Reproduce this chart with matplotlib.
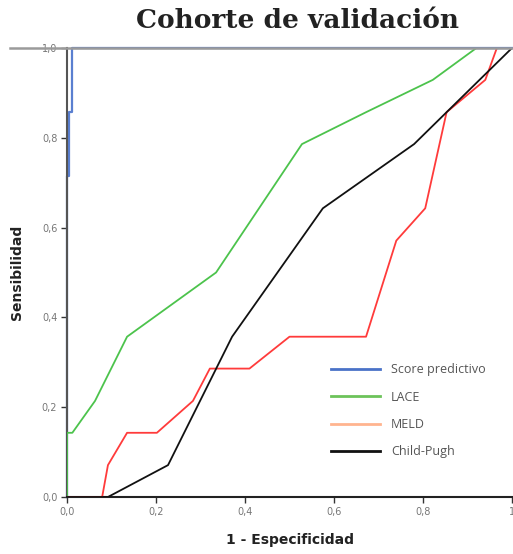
import matplotlib
matplotlib.use("Agg")
import matplotlib.pyplot as plt
from matplotlib.lines import Line2D

# Data (1 - specificity, sensitivity)
score_x = [0, 0, 0.004, 0.004, 0.011, 0.011, 1.0]
score_y = [0, 0.714, 0.714, 0.857, 0.857, 1.0, 1.0]

lace_x = [0, 0, 0.012, 0.063, 0.135, 0.335, 0.528, 0.672, 0.822, 0.92, 1.0]
lace_y = [0, 0.143, 0.143, 0.214, 0.357, 0.5, 0.786, 0.857, 0.929, 1.0, 1.0]

meld_x = [0, 0.079, 0.092, 0.135, 0.202, 0.283, 0.321, 0.41, 0.5, 0.672, 0.74, 0.805, 0.853, 0.94, 0.966, 1.0]
meld_y = [0, 0, 0.071, 0.143, 0.143, 0.214, 0.286, 0.286, 0.357, 0.357, 0.571, 0.643, 0.857, 0.929, 1.0, 1.0]

child_x = [0, 0.092, 0.227, 0.371, 0.575, 0.78, 1.0]
child_y = [0, 0, 0.071, 0.357, 0.643, 0.786, 1.0]

series_names = ["Score predictivo", "LACE", "MELD", "Child-Pugh"]
legend_colors = ["#4a72c8", "#6cc35a", "#ffb48f", "#111111"]

xticks = [0, 0.2, 0.4, 0.6, 0.8, 1.0]
xticklabels = ["0,0", "0,2", "0,4", "0,6", "0,8", "1"]
yticks = [0, 0.2, 0.4, 0.6, 0.8, 1.0]
yticklabels = ["0,0", "0,2", "0,4", "0,6", "0,8", "1,0"]

fig = plt.figure(figsize=(5.13, 5.54), dpi=100)
ax = fig.add_axes([67/513, 57/554, 445/513, 449/554])

ax.plot(lace_x, lace_y, color="#4cc34c", lw=1.3, zorder=3)
ax.plot(meld_x, meld_y, color="#ff3b3b", lw=1.3, zorder=3)
ax.plot(child_x, child_y, color="#111111", lw=1.3, zorder=3)
ax.plot(score_x, score_y, color="#5a7fd0", lw=1.6, zorder=2, clip_on=False)

ax.set_xlim(0, 1)
ax.set_ylim(0, 1)
ax.set_xticks(xticks)
ax.set_xticklabels(xticklabels)
ax.set_yticks(yticks)
ax.set_yticklabels(yticklabels)
ax.tick_params(axis="both", labelsize=7, labelcolor="#777777", color="#333333",
               length=4, width=1, direction="out", pad=3)
for s in ["top", "right"]:
    ax.spines[s].set_visible(False)
ax.spines["left"].set_color("#555555")
ax.spines["left"].set_linewidth(1.5)
ax.spines["left"].set_zorder(2.5)
ax.spines["bottom"].set_color("#222222")
ax.spines["bottom"].set_linewidth(1.5)

ax.set_xlabel("1 - Especificidad", fontsize=10, fontweight="bold", color="#222222", labelpad=12)
ax.set_ylabel("Sensibilidad", fontsize=10, fontweight="bold", color="#222222", labelpad=13)

# top gray line
fig.add_artist(Line2D([10/513, 1.0], [506/554, 506/554], color="#9a9a9a", lw=1.8,
                      transform=fig.transFigure))

fig.text(297/513, 1 - 21/554, "Cohorte de validación", ha="center", va="center",
         fontsize=19, fontweight="bold", family="DejaVu Serif", color="#222222")

handles = [Line2D([0], [0], color=c, lw=2) for c in legend_colors]
leg = ax.legend(handles, series_names, loc="upper left",
                bbox_to_anchor=(253/445, (497 - 352)/449), frameon=False,
                handlelength=3.9, handletextpad=0.9, labelspacing=1.15,
                prop={"family": "Open Sans", "size": 9})
for t in leg.get_texts():
    t.set_color("#555555")

fig.savefig("out.png", dpi=100)
